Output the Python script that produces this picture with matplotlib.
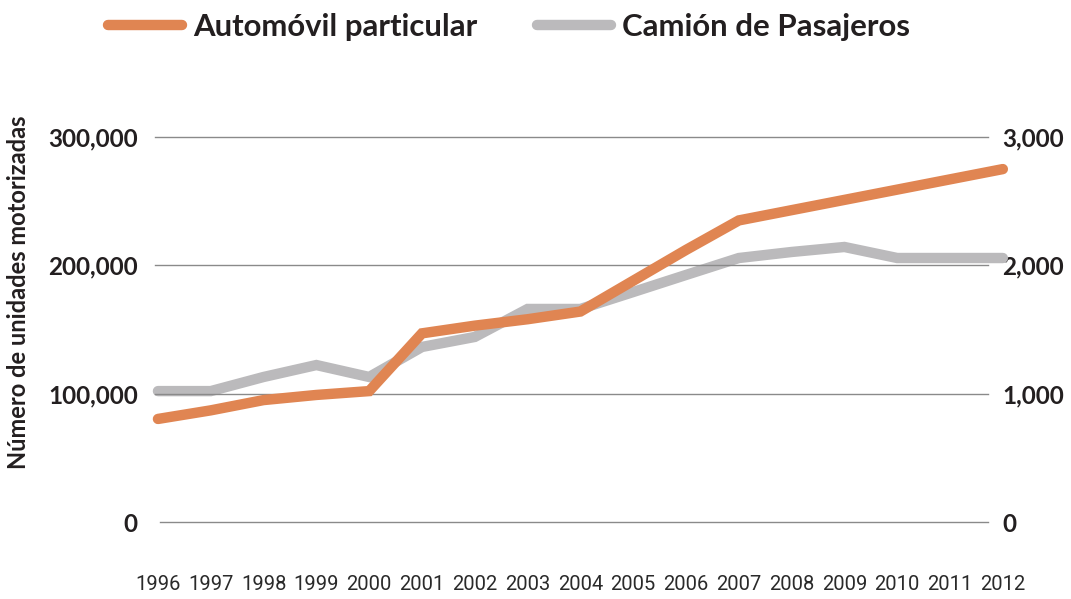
import matplotlib
matplotlib.use("Agg")
import matplotlib.pyplot as plt
from matplotlib.lines import Line2D

plt.rcParams["font.family"] = ["Lato", "DejaVu Sans"]

# datos
years = list(range(1996, 2013))
automovil = [80300, 87000, 95000, 99000, 102000, 147000, 153000, 158000, 164000,
             188000, 212000, 235000, 243000, 251000, 259000, 267000, 275000]
camion = [1020, 1020, 1130, 1223, 1130, 1364, 1442, 1660, 1660,
          1792, 1925, 2057, 2104, 2143, 2057, 2057, 2057]
left_ticks = [0, 100000, 200000, 300000]
right_ticks = [0, 1000, 2000, 3000]

ORANGE = "#E08552"
GRAY = "#BBBABC"
TEXT = "#231F20"

W, H = 1071, 599
fig = plt.figure(figsize=(W / 100, H / 100), dpi=100)
# ejes colocados en pixeles
ax = fig.add_axes([147.4 / W, (H - 522) / H, 866 / W, 385 / H])
ax.set_xlim(1995.8, 2012.2)
ax.set_ylim(0, 300000)

ax2 = ax.twinx()
ax2.set_ylim(0, 3000)

# líneas de cuadrícula (no cubren todo el ancho)
for v in left_ticks:
    start = 155 if v else 160
    ax.axhline(v, xmin=(start - 147.4) / 866, xmax=(988 - 147.4) / 866,
               color="#8A8A8A", lw=1.0, zorder=1, clip_on=False)

ax2.plot(years, camion, color=GRAY, lw=7.5, solid_capstyle="round",
         solid_joinstyle="miter", zorder=2, clip_on=False)
ax.plot(years, automovil, color=ORANGE, lw=7.5, solid_capstyle="round",
        solid_joinstyle="miter", zorder=3, clip_on=False)
ax.set_zorder(ax2.get_zorder() + 1)
ax.patch.set_visible(False)

for a in (ax, ax2):
    for s in a.spines.values():
        s.set_visible(False)
    a.tick_params(length=0)

ax.set_yticks(left_ticks)
ax.set_yticklabels([f"{v:,}" for v in left_ticks], fontsize=17.5, fontweight="bold",
                   color=TEXT)
ax.tick_params(axis="y", pad=7)
ax2.set_yticks(right_ticks)
ax2.set_yticklabels([f"{v:,}" for v in right_ticks], fontsize=17.5, fontweight="bold",
                    color=TEXT)
ax2.tick_params(axis="y", pad=-8)

ax.set_xticks(years)
ax.set_xticklabels([str(y) for y in years], fontsize=14.5, color="#2A2A2A",
                   family=["Roboto", "DejaVu Sans"], fontweight="normal")
ax.tick_params(axis="x", pad=38)

ax.set_ylabel("Número de unidades motorizadas", fontsize=17, fontweight="bold",
              color=TEXT)
ax.yaxis.set_label_coords(-0.136, 0.597)

handles = [Line2D([], [], color=ORANGE, lw=7.5, solid_capstyle="round"),
           Line2D([], [], color=GRAY, lw=7.5, solid_capstyle="round")]
leg = fig.legend(handles, ["Automóvil particular", "Camión de Pasajeros"],
                 loc="center", bbox_to_anchor=(509 / W, (H - 27) / H), ncol=2,
                 frameon=False, handlelength=2.4, handletextpad=0.35,
                 columnspacing=1.9, prop={"family": "Lato", "weight": "bold", "size": 22.4})
for t in leg.get_texts():
    t.set_color(TEXT)

fig.savefig("out.png", dpi=100)
